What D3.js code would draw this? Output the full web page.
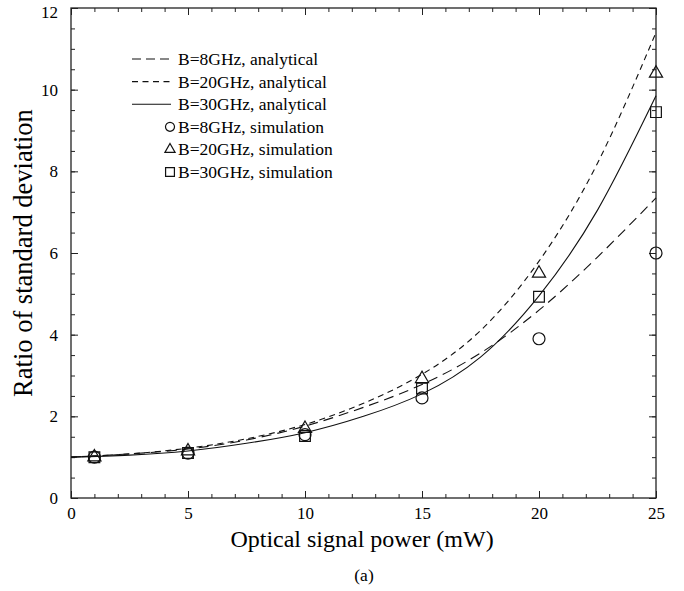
<!DOCTYPE html>
<html>
    <head>
        <title>Ratio of standard deviation</title>
        <script type="text/javascript" src="https://cdn.jsdelivr.net/npm/d3@7"></script>
        <style>
            body{
                margin:0;
                background:white;
            }
            text{
                font-family: "Liberation Serif", "DejaVu Serif", serif;
                fill: black;
            }
            .frame{
                fill:none;
                stroke:#222;
                stroke-width:1.3px;
            }
            .axis path{
                display:none;
            }
            .axis line{
                stroke:#222;
                stroke-width:1px;
            }
            .curve{
                fill:none;
                stroke:#111;
                stroke-width:1.1px;
            }
            .marker{
                fill:none;
                stroke:#111;
                stroke-width:1.2px;
            }
        </style>
    </head>
    <body>
        <script type="text/javascript">
            // Data
            let xTicks = [0,5,10,15,20,25]
            let yTicks = [0,2,4,6,8,10,12]

            // analytical curves
            let curveX = [0,2.5,5,7.5,10,12.5,15,17.5,20,22.5,25]
            let ana8 = [1.0,1.08,1.2,1.42,1.76,2.22,2.78,3.55,4.6,5.9,7.35]
            let ana20 = [1.0,1.08,1.22,1.45,1.8,2.32,3.03,4.1,5.8,8.2,11.4]
            let ana30 = [1.0,1.05,1.15,1.34,1.6,2.0,2.55,3.45,4.95,7.05,9.85]

            // simulation points
            let simX = [1,5,10,15,20,25]
            let sim8 = [1.0,1.1,1.55,2.45,3.9,6.0]
            let sim20 = [1.0,1.15,1.7,2.92,5.5,10.4]
            let sim30 = [1.0,1.1,1.52,2.68,4.93,9.45]

            let legendLabels = ["B=8GHz, analytical","B=20GHz, analytical","B=30GHz, analytical",
                                "B=8GHz, simulation","B=20GHz, simulation","B=30GHz, simulation"]

            let w = 684
            let h = 591
            let pLeft = 71, pRight = 656, pTop = 8, pBottom = 498

            let svg = d3.select("body")
                        .append("svg")
                        .attr("width",w)
                        .attr("height",h)

            let xScale = d3.scaleLinear()
                            .domain([0,25])
                            .range([pLeft,pRight])
            let yScale = d3.scaleLinear()
                            .domain([0,12])
                            .range([pBottom,pTop])

            // minor ticks (inward)
            let xMinor = d3.range(0,26,1)
            let yMinor = d3.range(0,12.01,0.5)
            svg.append("g").attr("class","axis")
                .attr("transform","translate(0,"+pBottom+")")
                .call(d3.axisBottom(xScale).tickValues(xMinor).tickSize(-4).tickFormat(""))
            svg.append("g").attr("class","axis")
                .attr("transform","translate(0,"+pTop+")")
                .call(d3.axisTop(xScale).tickValues(xMinor).tickSize(-4).tickFormat(""))
            svg.append("g").attr("class","axis")
                .attr("transform","translate("+pLeft+",0)")
                .call(d3.axisLeft(yScale).tickValues(yMinor).tickSize(-4).tickFormat(""))
            svg.append("g").attr("class","axis")
                .attr("transform","translate("+pRight+",0)")
                .call(d3.axisRight(yScale).tickValues(yMinor).tickSize(-4).tickFormat(""))

            // major ticks with labels
            let xAxis = svg.append("g").attr("class","axis")
                .attr("transform","translate(0,"+pBottom+")")
                .call(d3.axisBottom(xScale).tickValues(xTicks).tickSize(-7).tickPadding(9).tickFormat(d=>d))
            xAxis.selectAll("text").attr("font-size","17px").style("font-family","Liberation Serif")
            let yAxis = svg.append("g").attr("class","axis")
                .attr("transform","translate("+pLeft+",0)")
                .call(d3.axisLeft(yScale).tickValues(yTicks).tickSize(-7).tickPadding(13).tickFormat(d=>d))
            yAxis.selectAll("text").attr("font-size","17px").style("font-family","Liberation Serif")
                .attr("dy",d=>d==12 ? "0.55em" : "0.32em")
            svg.append("g").attr("class","axis")
                .attr("transform","translate("+pRight+",0)")
                .call(d3.axisRight(yScale).tickValues(yTicks).tickSize(-7).tickFormat(""))
            svg.append("g").attr("class","axis")
                .attr("transform","translate(0,"+pTop+")")
                .call(d3.axisTop(xScale).tickValues(xTicks).tickSize(-7).tickFormat(""))

            svg.append("rect")
                .attr("class","frame")
                .attr("x",pLeft).attr("y",pTop)
                .attr("width",pRight-pLeft).attr("height",pBottom-pTop)

            // axis titles
            svg.append("text")
                .attr("x",362)
                .attr("y",547)
                .attr("text-anchor","middle")
                .attr("font-size","24px")
                .text("Optical signal power (mW)")
            svg.append("text")
                .attr("transform","translate(32,253) rotate(-90)")
                .attr("text-anchor","middle")
                .attr("font-size","26.5px")
                .text("Ratio of standard deviation")
            svg.append("text")
                .attr("x",364)
                .attr("y",581)
                .attr("text-anchor","middle")
                .attr("font-size","17.5px")
                .text("(a)")

            // curves
            let line = d3.line()
                        .x(d=>xScale(d[0]))
                        .y(d=>yScale(d[1]))
                        .curve(d3.curveNatural)
            let dashes = ["10,6","6,4.5",null]
            let anaSeries = [ana8,ana20,ana30]
            anaSeries.forEach(function(s,i){
                svg.append("path")
                    .datum(curveX.map((x,j)=>[x,s[j]]))
                    .attr("class","curve")
                    .attr("d",line)
                    .attr("stroke-dasharray",dashes[i])
            })

            // markers
            let symbols = [d3.symbolCircle,d3.symbolTriangle,d3.symbolSquare]
            let symSizes = [113,75,115]
            let legSizes = [64,45,78]
            let simSeries = [sim8,sim20,sim30]
            simSeries.forEach(function(s,i){
                svg.selectAll(".m"+i)
                    .data(simX.map((x,j)=>[x,s[j]]))
                    .enter()
                    .append("path")
                    .attr("class","marker m"+i)
                    .attr("d",d3.symbol().type(symbols[i]).size(symSizes[i]))
                    .attr("transform",d=>"translate("+xScale(d[0])+","+yScale(d[1])+")")
            })

            // legend
            let legY = 59, legStep = 22.6
            let legend = svg.append("g")
            legendLabels.forEach(function(lab,i){
                let y = legY + i*legStep
                if (i<3){
                    legend.append("line")
                        .attr("class","curve")
                        .attr("x1",132).attr("x2",171)
                        .attr("y1",y).attr("y2",y)
                        .attr("stroke-dasharray",i==0 ? "9,5" : dashes[i])
                } else {
                    legend.append("path")
                        .attr("class","marker")
                        .attr("d",d3.symbol().type(symbols[i-3]).size(legSizes[i-3]))
                        .attr("transform","translate(170,"+y+")")
                }
                legend.append("text")
                    .attr("x",178)
                    .attr("y",y+6)
                    .attr("font-size","17.5px")
                    .text(lab)
            })
        </script>
    </body>
</html>
